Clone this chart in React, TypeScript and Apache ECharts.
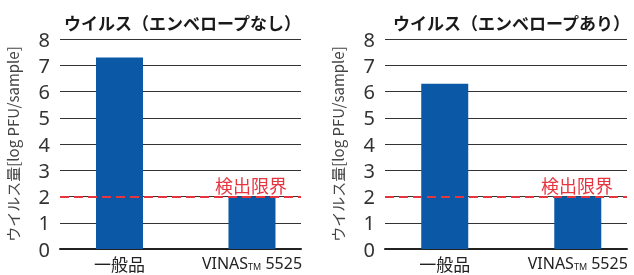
import React, { useEffect, useRef } from "react";
import * as echarts from "echarts";

const categories = ["一般品", "VINAS™ 5525"];
const categoryPositions = [0, 1];
const nonEnvelopeValues = [7.3, 2.0];
const envelopeValues = [6.3, 2.0];
const chartTitles = ["ウイルス（エンベロープなし）", "ウイルス（エンベロープあり）"];
const yAxisName = "ウイルス量[log PFU/sample]";
const detectionLimit = 2;
const detectionLabel = "検出限界";
const yMin = 0;
const yMax = 8;

const BAR = "#0b58a6";
const RED = "#e8343f";
const JP = "'Noto Sans CJK JP', 'Noto Sans', sans-serif";

export default function App() {
  const ref = useRef<HTMLDivElement>(null);
  useEffect(() => {
    if (!ref.current) return;
    const chart = echarts.init(ref.current, undefined, { renderer: "svg" });
    const grids = [
      { left: 60, width: 241, top: 39, height: 210 },
      { left: 385, width: 242, top: 39, height: 210 },
    ];
    const seriesValues = [nonEnvelopeValues, envelopeValues];
    const labelFmt = (v: number) => {
      const i = categoryPositions.indexOf(Math.round(v));
      if (i === 0) return "{a|" + categories[0] + "}";
      if (i === 1) return "{b|VINAS}{tm|TM}{b| 5525}";
      return "";
    };
    chart.setOption({
      animation: false,
      title: chartTitles.map((t, i) => ({
        text: t,
        left: i === 0 ? 59 : 388,
        top: 9,
        textStyle: { fontFamily: JP, fontSize: 17, fontWeight: "bold", color: "#1a1a1a" },
      })),
      grid: grids,
      xAxis: grids.map((_, i) => ({
        type: "value",
        gridIndex: i,
        min: -0.449,
        max: 1.37,
        splitLine: { show: false },
        axisTick: { show: false },
        axisLine: { show: true, onZero: false, lineStyle: { color: "#222", width: 2 } },
        axisLabel: {
          customValues: categoryPositions,
          formatter: labelFmt,
          margin: 6,
          color: "#222",
          rich: {
            a: { fontFamily: JP, fontSize: 17, color: "#222" },
            b: { fontFamily: "'Noto Sans', sans-serif", fontSize: 16, color: "#222" },
            tm: { fontFamily: "'Noto Sans', sans-serif", fontSize: 9, color: "#222", padding: [7, 0, 0, 0] },
          },
        },
      })),
      yAxis: grids.map((_, i) => ({
        type: "value",
        gridIndex: i,
        min: yMin,
        max: yMax,
        interval: 1,
        name: yAxisName,
        nameLocation: "middle",
        nameRotate: 90,
        nameGap: 40,
        nameTextStyle: { fontFamily: JP, fontSize: 15, color: "#444" },
        axisLine: { show: false },
        axisTick: { show: false },
        axisLabel: { margin: 10, fontFamily: "'Noto Sans', sans-serif", fontSize: 20, color: "#333" },
        splitLine: { lineStyle: { color: "#333", width: 1 } },
      })),
      series: seriesValues.map((vals, i) => ({
        type: "bar",
        xAxisIndex: i,
        yAxisIndex: i,
        barWidth: 47,
        itemStyle: { color: BAR },
        data: vals.map((v, j) => [categoryPositions[j], v]),
        markLine: {
          silent: true,
          symbol: "none",
          lineStyle: { color: RED, type: [9, 5], width: 2 },
          label: {
            show: true,
            position: "insideEndTop",
            formatter: detectionLabel,
            distance: [14, 3],
            fontFamily: JP,
            fontSize: 18,
            color: RED,
          },
          data: [{ yAxis: detectionLimit }],
        },
        z: 3,
      })),
    });
    return () => chart.dispose();
  }, []);
  return <div ref={ref} style={{ position: "fixed", left: 0, top: 0, width: 634, height: 275 }} />;
}
